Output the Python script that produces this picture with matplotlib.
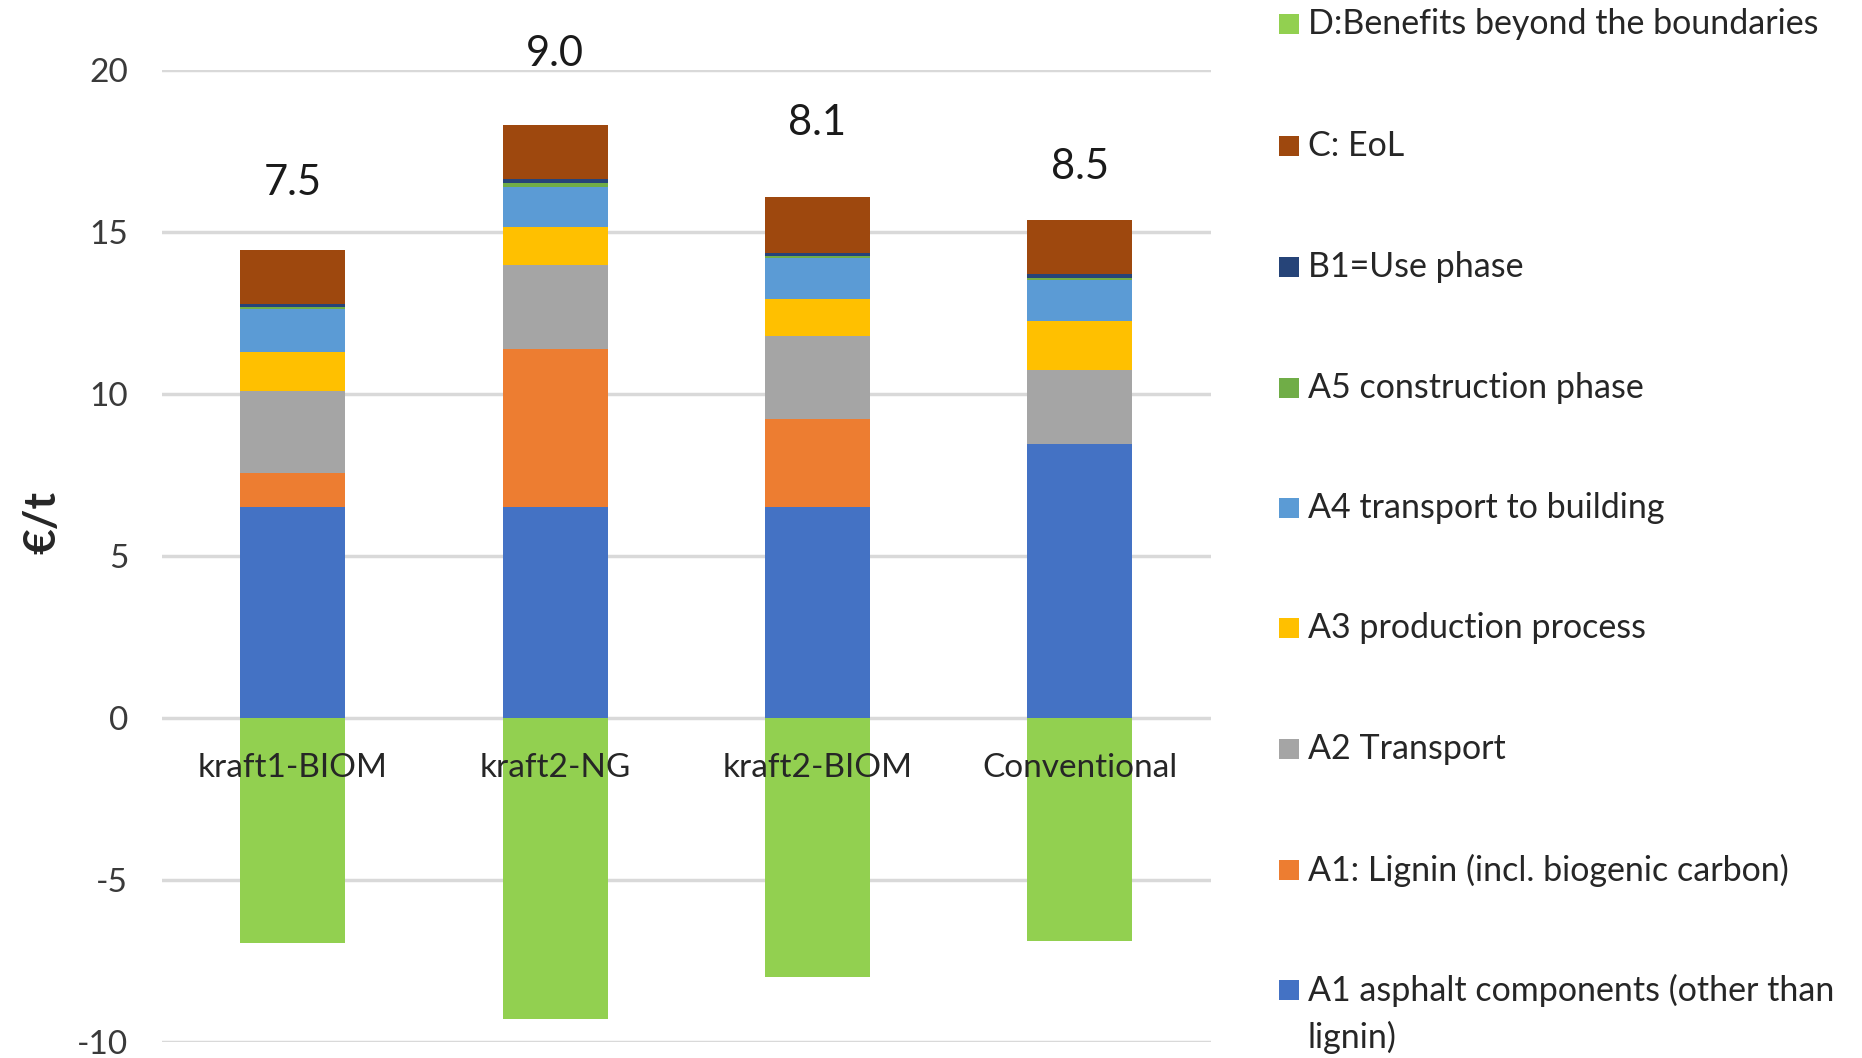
import matplotlib
matplotlib.use("Agg")
import matplotlib.pyplot as plt
from matplotlib.patches import Rectangle
import numpy as np

# Scenarios
categories = ["kraft1-BIOM", "kraft2-NG", "kraft2-BIOM", "Conventional"]

# Life-cycle stage contributions (€/t), stacked bottom to top
a1_asphalt = [6.50, 6.50, 6.50, 8.45]
a1_lignin = [1.07, 4.87, 2.73, 0.00]
a2_transport = [2.53, 2.61, 2.55, 2.30]
a3_production = [1.19, 1.16, 1.15, 1.50]
a4_transport = [1.33, 1.24, 1.27, 1.27]
a5_construction = [0.06, 0.14, 0.05, 0.05]
b1_use = [0.08, 0.11, 0.10, 0.12]
c_eol = [1.69, 1.67, 1.73, 1.69]
d_benefits = [-6.95, -9.30, -8.00, -6.90]

stage_labels = [
    "A1 asphalt components (other than\nlignin)",
    "A1: Lignin (incl. biogenic carbon)",
    "A2 Transport",
    "A3 production process",
    "A4 transport to building",
    "A5 construction phase",
    "B1=Use phase",
    "C: EoL",
    "D:Benefits beyond the boundaries",
]
stage_colors = ["#4472C4", "#ED7D31", "#A5A5A5", "#FFC000", "#5B9BD5",
                "#70AD47", "#264478", "#9E480E", "#92D050"]

y_ticks = [-10, -5, 0, 5, 10, 15, 20]

FONT = "Lato"
plt.rcParams["font.family"] = [FONT, "DejaVu Sans"]

W, H = 1862, 1058
fig = plt.figure(figsize=(W / 100, H / 100), dpi=100)
ax = fig.add_axes([161.5 / W, 1 - 1041.5 / H, (1211 - 161.5) / W, (1041.5 - 70) / H])

x = np.arange(len(categories))
bar_w = 0.4

positive = [a1_asphalt, a1_lignin, a2_transport, a3_production,
            a4_transport, a5_construction, b1_use, c_eol]
bottom = np.zeros(len(categories))
for vals, col in zip(positive, stage_colors[:8]):
    vals = np.array(vals)
    ax.bar(x, vals, bar_w, bottom=bottom, color=col, linewidth=0, zorder=2)
    bottom += vals
ax.bar(x, d_benefits, bar_w, color=stage_colors[8], linewidth=0, zorder=2)

# Net result printed above each stack
net = bottom + np.array(d_benefits)
net_label_gap = [2.05, 2.2, 2.28, 1.62]
for xi, top, n, gap in zip(x, bottom, net, net_label_gap):
    ax.text(xi, top + gap, f"{n:.1f}", ha="center", va="center",
            fontsize=30, color="#1a1a1a", clip_on=False, zorder=4)

# Scenario names drawn just below the zero line
for xi, name in zip(x, categories):
    ax.text(xi, -1.55, name, ha="center", va="center", fontsize=24,
            color="#262626", zorder=4)

ax.set_xlim(-0.5, len(categories) - 0.5)
ax.set_ylim(-10, 20)
ax.set_yticks(y_ticks)
ax.set_yticklabels([str(t) for t in y_ticks])
ax.set_xticks([])
ax.tick_params(axis="y", length=0, pad=24, labelsize=24, labelcolor="#3a3a3a")
ax.grid(axis="y", color="#D9D9D9", linewidth=2.5, zorder=0)
ax.set_axisbelow(True)
for sp in ax.spines.values():
    sp.set_visible(False)

fig.text(42 / W, 1 - 523 / H, "€/t", rotation=90, ha="center", va="center",
         fontsize=32, fontweight="bold", color="#262626")

# Legend listed from top (D) down to A1 asphalt, one line of text at a time
legend_rows = [24, 146, 267, 388, 508, 628, 749, 870, 990]
line_gap = 47
for yc, lab, col in zip(legend_rows, stage_labels[::-1], stage_colors[::-1]):
    fig.patches.append(Rectangle((1279 / W, 1 - (yc + 10) / H), 20 / W, 20 / H,
                                 transform=fig.transFigure, color=col,
                                 linewidth=0))
    for k, line in enumerate(lab.split("\n")):
        fig.text(1308 / W, 1 - (yc + k * line_gap) / H, line, ha="left",
                 va="center", fontsize=24.5, color="#262626")

fig.savefig("out.png", dpi=100, facecolor="white")
